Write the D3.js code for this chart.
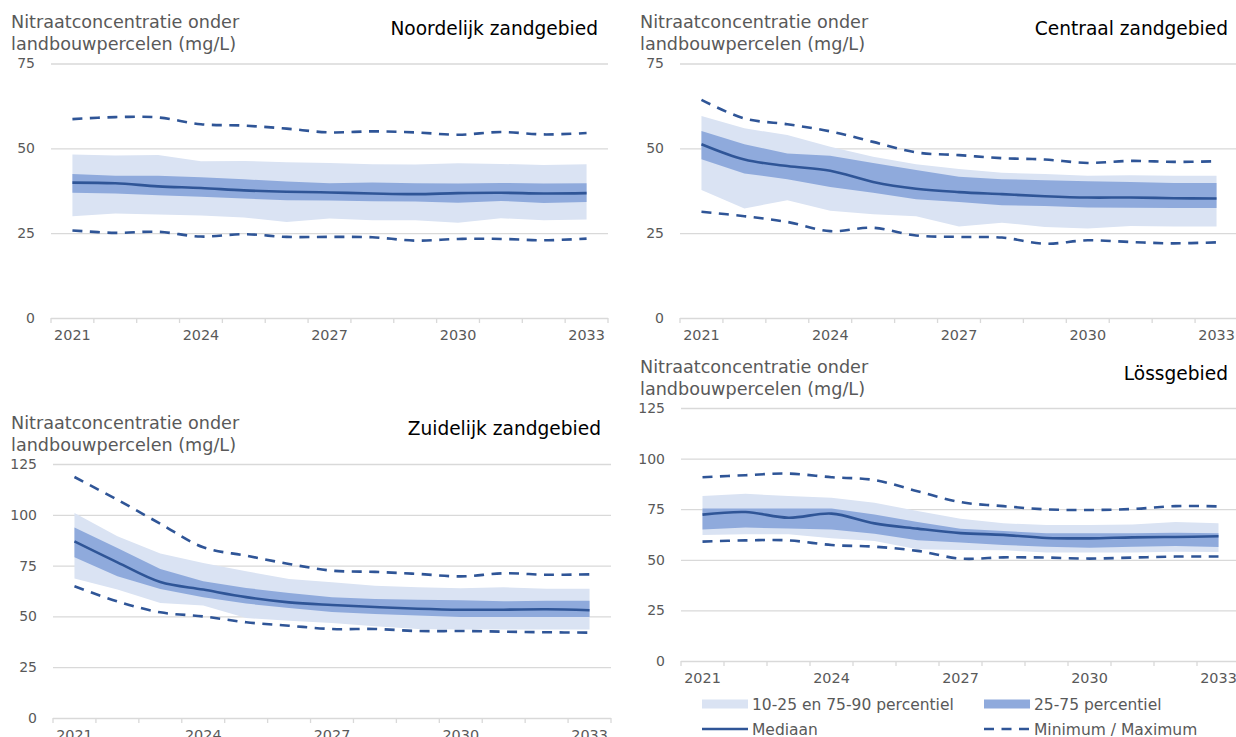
<!DOCTYPE html>
<html>
<head>
<meta charset="utf-8">
<script src="https://cdn.jsdelivr.net/npm/d3@7"></script>
<style>
  body { margin: 0; background: #fff; }
  svg { display: block; font-family: "DejaVu Sans", Verdana, sans-serif; }
</style>
</head>
<body>
<svg id="chart" width="1236" height="737"></svg>
<script>
// categories
const years = [2021, 2022, 2023, 2024, 2025, 2026, 2027, 2028, 2029, 2030, 2031, 2032, 2033];
const yearLabels = [2021, 2024, 2027, 2030, 2033];
const ticks75 = [0, 25, 50, 75];
const ticks125 = [0, 25, 50, 75, 100, 125];
const yTitle = ['Nitraatconcentratie onder', 'landbouwpercelen (mg/L)'];

// Noordelijk zandgebied
const noordMax = [58.6, 59.2, 59.1, 57.1, 56.7, 55.8, 54.7, 55.0, 54.7, 54.0, 54.8, 54.1, 54.5];
const noordP90 = [48.2, 47.9, 48.0, 46.2, 46.3, 45.9, 45.7, 45.3, 45.2, 45.6, 45.4, 45.1, 45.3];
const noordP75 = [42.4, 41.9, 41.9, 41.5, 40.9, 40.2, 39.7, 39.9, 39.7, 39.6, 39.8, 39.6, 39.7];
const noordMed = [39.9, 39.7, 38.8, 38.3, 37.6, 37.2, 37.0, 36.7, 36.5, 36.8, 36.9, 36.7, 36.8];
const noordP25 = [36.9, 36.7, 36.2, 35.7, 35.2, 34.7, 34.6, 34.4, 34.3, 34.0, 34.5, 33.9, 34.2];
const noordP10 = [30.0, 30.8, 30.5, 30.2, 29.6, 28.3, 29.3, 28.8, 28.8, 28.1, 29.4, 28.8, 29.0];
const noordMin = [25.8, 25.1, 25.4, 24.0, 24.7, 23.9, 23.9, 23.8, 22.8, 23.3, 23.3, 22.9, 23.4];

// Centraal zandgebied
const centMax = [64.3, 58.8, 57.1, 55.0, 51.9, 48.8, 48.0, 47.1, 46.7, 45.7, 46.3, 46.0, 46.2];
const centP90 = [59.5, 55.9, 53.9, 50.5, 47.5, 45.3, 43.9, 42.8, 42.4, 41.9, 42.1, 41.9, 41.9];
const centP75 = [55.1, 51.2, 48.5, 47.8, 45.7, 43.6, 41.6, 40.9, 40.6, 40.3, 40.1, 39.8, 39.8];
const centMed = [51.2, 46.7, 44.8, 43.4, 40.1, 38.1, 37.1, 36.5, 35.9, 35.5, 35.5, 35.3, 35.2];
const centP25 = [46.8, 42.6, 40.9, 38.6, 36.9, 35.0, 34.2, 33.2, 33.0, 32.6, 32.5, 32.4, 32.4];
const centP10 = [37.7, 32.3, 34.7, 31.6, 30.6, 30.0, 27.0, 28.1, 26.8, 26.4, 27.1, 27.0, 27.0];
const centMin = [31.3, 30.0, 28.3, 25.6, 26.6, 24.3, 23.9, 23.7, 21.9, 22.9, 22.4, 22.0, 22.3];

// Zuidelijk zandgebied
const zuidMax = [118.6, 107.4, 95.6, 84.0, 79.9, 75.8, 72.5, 71.9, 70.9, 69.7, 71.2, 70.5, 70.7];
const zuidP90 = [100.9, 89.4, 80.9, 76.3, 72.2, 68.4, 66.8, 65.1, 64.3, 63.8, 64.3, 63.6, 63.6];
const zuidP75 = [93.8, 83.7, 73.3, 67.3, 64.0, 61.5, 59.4, 58.6, 58.2, 57.9, 57.4, 57.7, 57.7];
const zuidMed = [86.9, 76.6, 66.9, 63.2, 59.5, 56.9, 55.6, 54.6, 53.8, 53.3, 53.3, 53.5, 53.0];
const zuidP25 = [79.1, 69.7, 63.5, 59.4, 56.3, 54.1, 52.2, 51.2, 50.4, 49.7, 49.7, 49.7, 49.7];
const zuidP10 = [68.7, 63.2, 56.6, 55.4, 49.2, 47.9, 46.8, 45.1, 43.8, 43.5, 43.5, 43.5, 43.5];
const zuidMin = [64.8, 57.4, 52.0, 50.0, 47.1, 45.4, 43.8, 43.8, 42.8, 42.8, 42.5, 42.2, 42.0];

// Lössgebied
const lossMax = [90.8, 91.8, 92.6, 90.8, 89.4, 83.9, 78.5, 76.5, 74.9, 74.6, 75.1, 76.5, 76.4];
const lossP90 = [81.5, 82.6, 81.5, 80.7, 78.2, 74.1, 70.3, 68.0, 67.2, 67.2, 67.5, 68.7, 68.0];
const lossP75 = [75.4, 75.4, 75.4, 75.4, 72.4, 68.7, 65.4, 64.2, 63.1, 63.1, 63.1, 63.4, 63.1];
const lossMed = [72.3, 73.6, 70.8, 72.8, 68.0, 65.4, 63.2, 62.3, 60.8, 60.6, 61.1, 61.3, 61.6];
const lossP25 = [65.0, 65.9, 65.5, 65.0, 62.9, 59.6, 58.5, 57.3, 56.5, 56.0, 56.5, 56.8, 56.3];
const lossP10 = [62.3, 62.6, 62.6, 60.6, 59.3, 55.2, 54.9, 54.7, 53.6, 53.6, 53.6, 54.0, 53.9];
const lossMin = [59.0, 59.6, 59.6, 57.3, 56.5, 54.4, 50.6, 51.2, 51.1, 50.6, 51.1, 51.6, 51.6];

const legendItems = ['10-25 en 75-90 percentiel', '25-75 percentiel', 'Mediaan', 'Minimum / Maximum'];

const colors = {
  outer: '#dae3f3',
  inner: '#8faadc',
  line: '#2f5597',
  grid: '#d9d9d9',
  text: '#595959'
};

const panels = [
  {title: 'Noordelijk zandgebied', ticks: ticks75, max: noordMax, p90: noordP90, p75: noordP75, med: noordMed, p25: noordP25, p10: noordP10, min: noordMin,
   layout: {left: 51, right: 608, top: 63.5, bottom: 318, titleX: 11, titleY: 28, headRight: 598, headY: 35, labelGap: 16}},
  {title: 'Centraal zandgebied', ticks: ticks75, max: centMax, p90: centP90, p75: centP75, med: centMed, p25: centP25, p10: centP10, min: centMin,
   layout: {left: 680, right: 1238, top: 63.5, bottom: 318, titleX: 640, titleY: 28, headRight: 1228, headY: 35, labelGap: 16}},
  {title: 'Zuidelijk zandgebied', ticks: ticks125, max: zuidMax, p90: zuidP90, p75: zuidP75, med: zuidMed, p25: zuidP25, p10: zuidP10, min: zuidMin,
   layout: {left: 53, right: 611, top: 464, bottom: 718, titleX: 11, titleY: 429, headRight: 601, headY: 435, labelGap: 16}},
  {title: 'Lössgebied', ticks: ticks125, max: lossMax, p90: lossP90, p75: lossP75, med: lossMed, p25: lossP25, p10: lossP10, min: lossMin,
   layout: {left: 681, right: 1240, top: 408, bottom: 661, titleX: 640, titleY: 373, headRight: 1228, headY: 380, labelGap: 16}}
];

const svg = d3.select('#chart');

panels.forEach(p => {
  const L = p.layout;
  const g = svg.append('g');

  const x = d3.scaleBand().domain(years).range([L.left, L.right]);
  const cx = d => x(d) + x.bandwidth() / 2;
  const y = d3.scaleLinear().domain([0, d3.max(p.ticks)]).range([L.bottom, L.top]);

  // y-axis title (two lines)
  g.append('text')
    .attr('x', L.titleX)
    .attr('y', L.titleY)
    .attr('fill', colors.text)
    .style('font-size', '17.6px')
    .selectAll('tspan')
    .data(yTitle)
    .enter().append('tspan')
    .attr('x', L.titleX)
    .attr('dy', (d, i) => i === 0 ? 0 : 22)
    .text(d => d);

  // panel title
  g.append('text')
    .attr('x', L.headRight)
    .attr('y', L.headY)
    .attr('text-anchor', 'end')
    .attr('fill', '#000')
    .style('font-size', '18.6px')
    .text(p.title);

  // gridlines + y labels
  const yAxis = g.append('g')
    .attr('transform', `translate(${L.left},0)`)
    .call(d3.axisLeft(y).tickValues(p.ticks).tickSize(-(L.right - L.left)).tickPadding(L.labelGap))
    .attr('font-family', null)
    .attr('font-size', null);
  yAxis.select('.domain').remove();
  yAxis.selectAll('line').attr('stroke', colors.grid).attr('stroke-width', 1.3);
  yAxis.selectAll('text').attr('fill', colors.text).style('font-size', '14px');

  // category boundary ticks
  const bounds = years.map(d => x(d)).concat([L.right]);
  g.append('g').selectAll('line')
    .data(bounds)
    .enter().append('line')
    .attr('x1', d => d).attr('x2', d => d)
    .attr('y1', L.bottom).attr('y2', L.bottom + 5)
    .attr('stroke', colors.grid)
    .attr('stroke-width', 1.3);

  // x labels
  const xAxis = g.append('g')
    .attr('transform', `translate(0,${L.bottom})`)
    .call(d3.axisBottom(x).tickValues(yearLabels).tickSize(0).tickPadding(12))
    .attr('font-family', null)
    .attr('font-size', null);
  xAxis.select('.domain').remove();
  xAxis.selectAll('text').attr('fill', colors.text).style('font-size', '14.4px');

  const idx = years.map((d, i) => i);

  // 10-90 band
  g.append('path')
    .datum(idx)
    .attr('fill', colors.outer)
    .attr('d', d3.area().x(i => cx(years[i])).y0(i => y(p.p10[i])).y1(i => y(p.p90[i])));

  // 25-75 band
  g.append('path')
    .datum(idx)
    .attr('fill', colors.inner)
    .attr('d', d3.area().x(i => cx(years[i])).y0(i => y(p.p25[i])).y1(i => y(p.p75[i])));

  const smooth = d3.curveCatmullRom.alpha(0.5);

  // median
  g.append('path')
    .datum(idx)
    .attr('fill', 'none')
    .attr('stroke', colors.line)
    .attr('stroke-width', 2.6)
    .attr('d', d3.line().curve(smooth).x(i => cx(years[i])).y(i => y(p.med[i])));

  // min / max
  [p.max, p.min].forEach(series => {
    g.append('path')
      .datum(idx)
      .attr('fill', 'none')
      .attr('stroke', colors.line)
      .attr('stroke-width', 2.6)
      .attr('stroke-dasharray', '10,7.5')
      .attr('d', d3.line().curve(smooth).x(i => cx(years[i])).y(i => y(series[i])));
  });
});

// legend
const legend = svg.append('g').style('font-size', '15.5px');
const legendPos = [
  {x: 702, y: 704, type: 'rect', fill: colors.outer},
  {x: 984, y: 704, type: 'rect', fill: colors.inner},
  {x: 702, y: 729, type: 'line', dash: null},
  {x: 984, y: 729, type: 'line', dash: '10,7.5'}
];
legendItems.forEach((label, i) => {
  const pos = legendPos[i];
  if (pos.type === 'rect') {
    legend.append('rect')
      .attr('x', pos.x).attr('y', pos.y - 4.5)
      .attr('width', 46).attr('height', 9)
      .attr('fill', pos.fill);
  } else {
    legend.append('line')
      .attr('x1', pos.x).attr('x2', pos.x + 46)
      .attr('y1', pos.y).attr('y2', pos.y)
      .attr('stroke', colors.line)
      .attr('stroke-width', 2.6)
      .attr('stroke-dasharray', pos.dash);
  }
  legend.append('text')
    .attr('x', pos.x + 50)
    .attr('y', pos.y)
    .attr('dy', '0.36em')
    .attr('fill', colors.text)
    .text(label);
});
</script>
</body>
</html>
